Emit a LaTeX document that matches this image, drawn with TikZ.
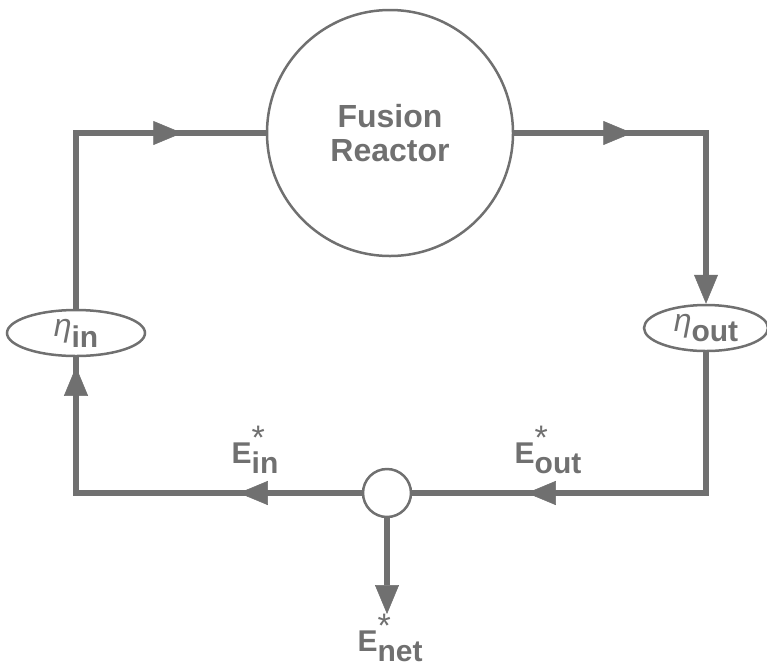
\documentclass[tikz,border=0pt]{standalone}
\usepackage{fontspec}
\setmainfont{Liberation Sans}
\usetikzlibrary{arrows.meta,decorations.markings,shapes.geometric}
\definecolor{ink}{RGB}{112,112,112}
\newcommand{\Elab}[1]{E\rlap{\raisebox{0.45em}{\mdseries\fontsize{34}{34}\selectfont *}}\raisebox{-0.35em}{#1}}
\newcommand{\etalab}[1]{\raisebox{0.28em}{\mdseries\itshape\fontsize{32}{32}\selectfont η}\raisebox{-0.08em}{#1}}
\tikzset{
  headtip/.tip={Triangle[length=29pt,width=24pt,line width=0.5pt]},
  flow/.style={color=ink,line width=6pt},
  arrowat/.style={postaction={decorate,decoration={markings,mark=at position #1 with {\arrow{headtip}}}}},
  ring/.style={draw=ink,line width=2.5pt,inner sep=0pt},
  lab/.style={text=ink,font=\bfseries\fontsize{30}{30}\selectfont,inner sep=0pt}
}
\begin{document}
\begin{tikzpicture}[x=1pt,y=1pt]
\useasboundingbox (0,0) rectangle (767,-667);
\node[ring,circle,minimum size=246pt,align=center,text=ink,font=\bfseries\fontsize{32}{34}\selectfont] (reactor) at (390,-133) {Fusion\\Reactor};
\node[ring,circle,fill=white,minimum size=48pt] (junc) at (387,-493) {};
\node[ring,ellipse,minimum width=138pt,minimum height=46pt,lab] (etain) at (76,-333) {\etalab{in}};
\node[ring,ellipse,minimum width=124pt,minimum height=46pt,lab] (etaout) at (706,-328) {\etalab{out}};
\node[lab] (ein) at (255,-450) {\Elab{in}};
\node[lab] (eout) at (548,-450) {\Elab{out}};
\node[lab,anchor=north] (enet) at (390,-614) {\Elab{net}};
\draw[flow,arrowat=282pt] (etain.north) |- (reactor.west);
\draw[flow,arrowat=118pt,-headtip] (reactor.east) -| (etaout.north);
\draw[flow,arrowat=320pt] (etaout.south) |- (junc.east);
\draw[flow,arrowat=123pt,arrowat=412pt] (junc.west) -| (etain.south);
\draw[flow,-headtip] (junc.south) -- (junc.south |- enet.north);
\end{tikzpicture}
\end{document}
